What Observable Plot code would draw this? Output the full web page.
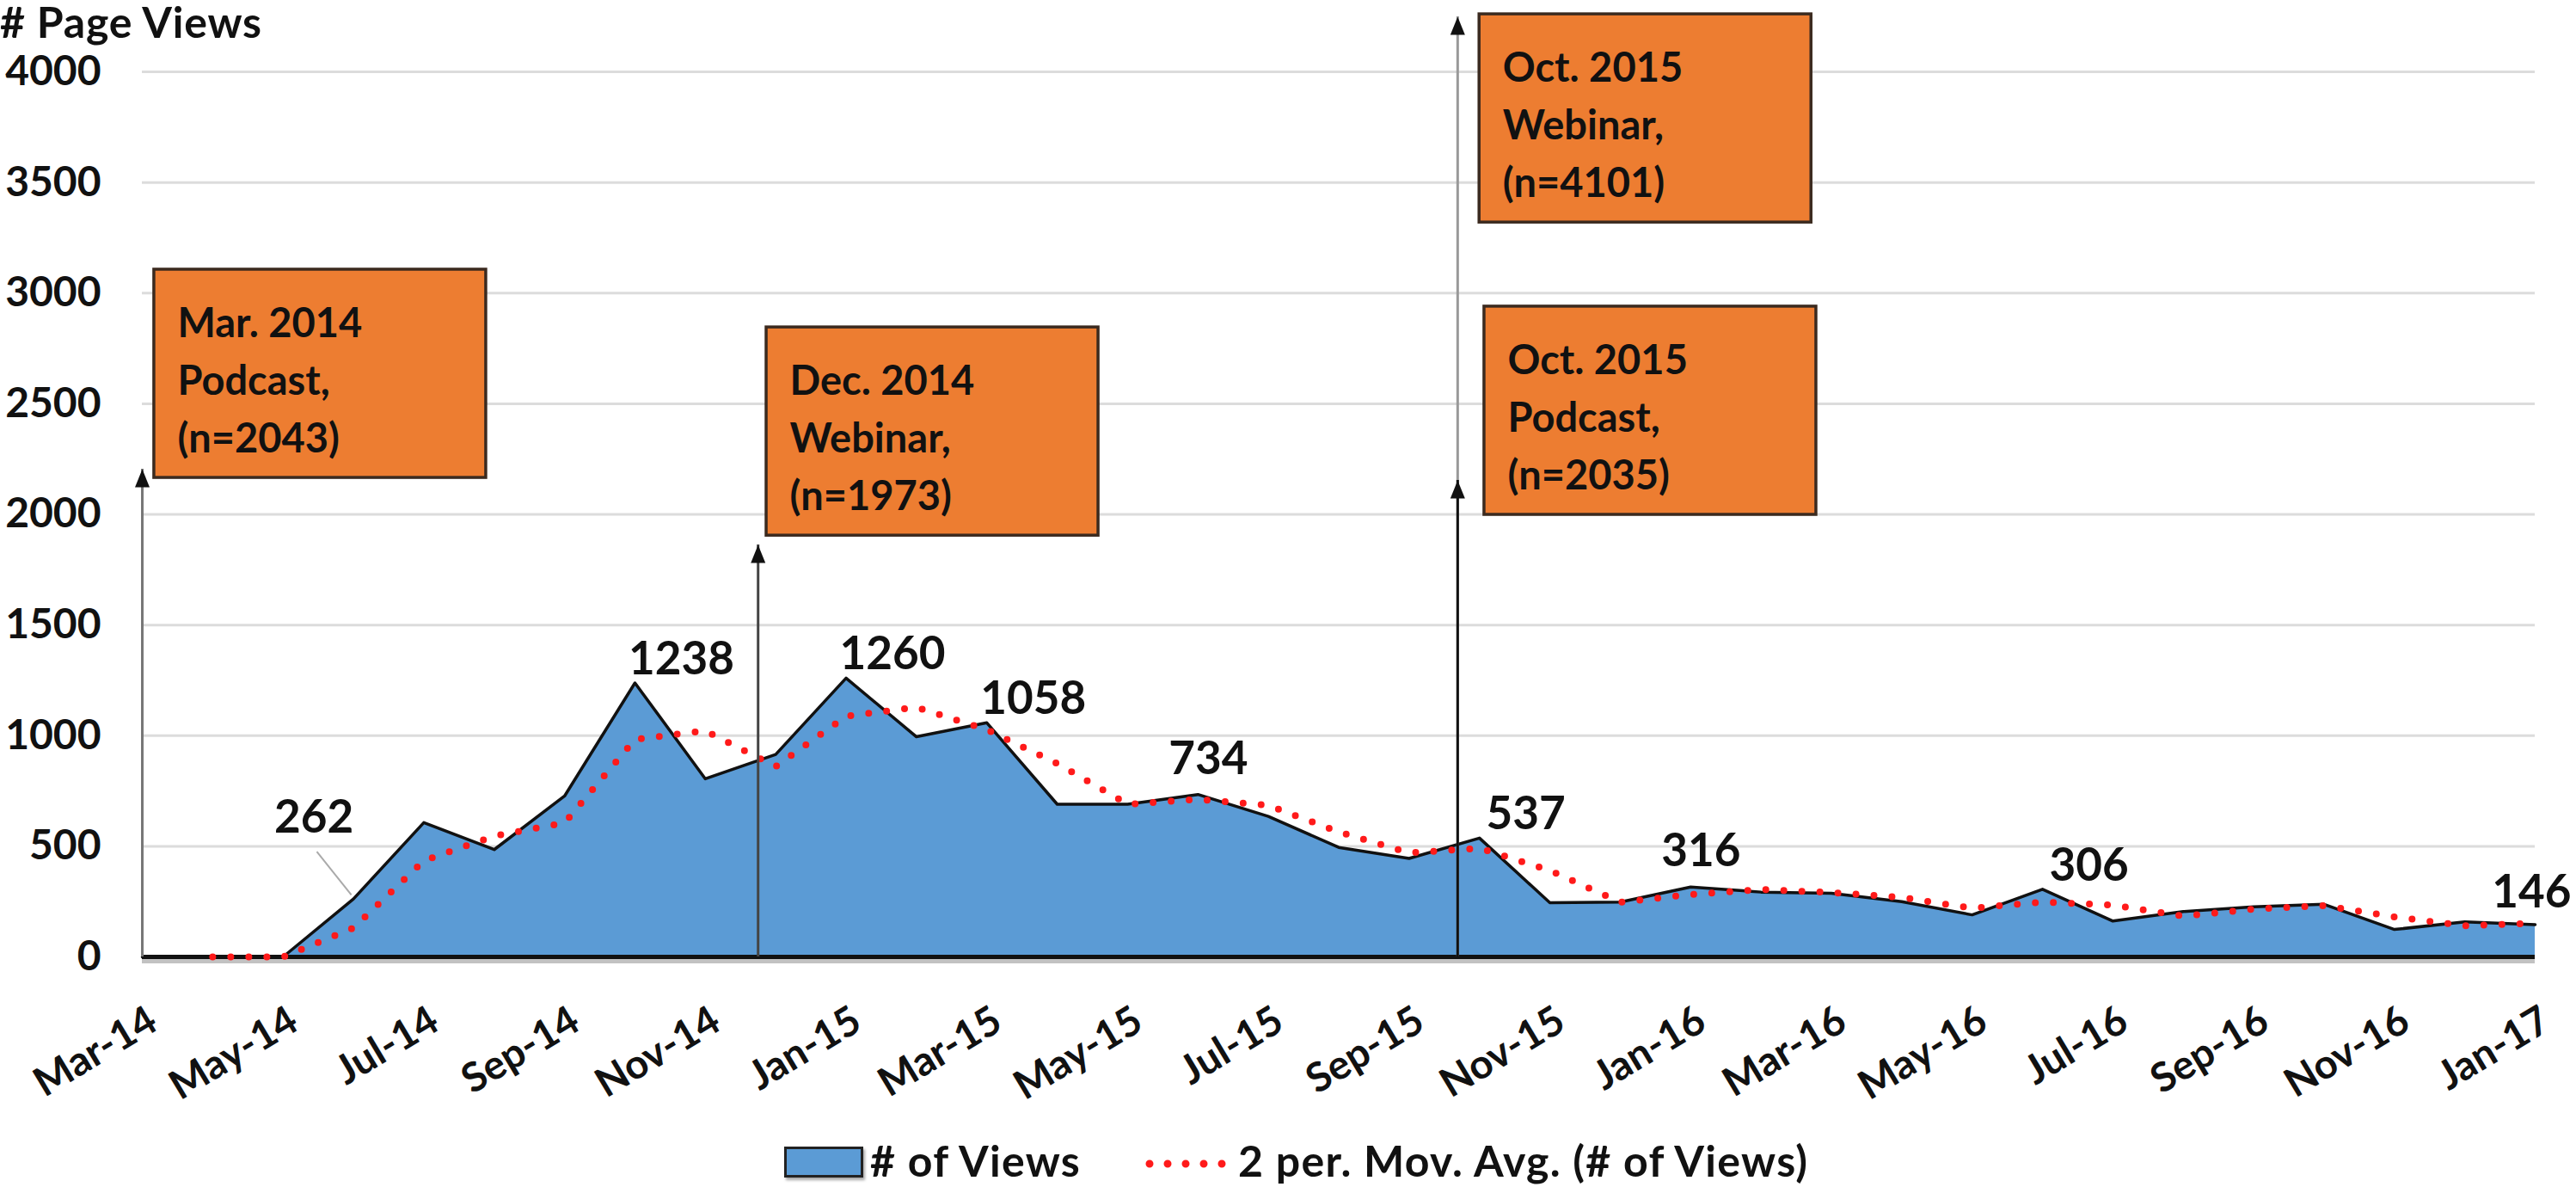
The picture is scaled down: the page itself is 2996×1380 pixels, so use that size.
<!DOCTYPE html>
<html>
<head>
<meta charset="utf-8">
<script src="https://cdn.jsdelivr.net/npm/d3@7"></script>
<script src="https://cdn.jsdelivr.net/npm/@observablehq/plot@0.6"></script>
<style>
  html, body { margin: 0; padding: 0; background: #fff; }
  body { width: 2996px; height: 1380px; overflow: hidden; font-family: Lato, "Open Sans", sans-serif; font-weight: 700; color: #111; }
  #wrap { position: relative; width: 2996px; height: 1380px; }
  #chart svg { display: block; overflow: visible; }
  #title { position: absolute; left: 0px; top: 0px; font-size: 50px; line-height: 50px; letter-spacing: 0.8px; white-space: nowrap; }
  #legend { position: absolute; left: 0; top: 1300px; width: 2996px; height: 80px; }
  #legend .sw { position: absolute; left: 912px; top: 33px; width: 86px; height: 30px; background: #5B9BD5; border: 3px solid #222; box-shadow: 2px 3px 3px rgba(0,0,0,0.35); }
  #legend .lt { position: absolute; top: 24px; font-size: 50px; line-height: 50px; letter-spacing: 1.3px; white-space: nowrap; }
  #legend svg { position: absolute; left: 1330px; top: 43px; }
</style>
</head>
<body>
<div id="wrap">
  <div id="chart"></div>
  <div id="title"># Page Views</div>
  <div id="legend">
    <div class="sw"></div>
    <span class="lt" style="left:1012px"># of Views</span>
    <svg width="100" height="20"><line x1="7" y1="10" x2="92" y2="10" stroke="#ff1a1a" stroke-width="9" stroke-dasharray="0 21" stroke-linecap="round"/></svg>
    <span class="lt" style="left:1440px">2 per. Mov. Avg. (# of Views)</span>
  </div>
</div>
<script>
// ---- data ----
const months = ["Mar-14","Apr-14","May-14","Jun-14","Jul-14","Aug-14","Sep-14","Oct-14","Nov-14","Dec-14",
  "Jan-15","Feb-15","Mar-15","Apr-15","May-15","Jun-15","Jul-15","Aug-15","Sep-15","Oct-15","Nov-15","Dec-15",
  "Jan-16","Feb-16","Mar-16","Apr-16","May-16","Jun-16","Jul-16","Aug-16","Sep-16","Oct-16","Nov-16","Dec-16",
  "Jan-17"];
const views = [0, 0, 0, 262, 607, 485, 727, 1238, 805, 915,
  1260, 995, 1058, 690, 690, 734, 635, 495, 445, 537, 245, 248,
  316, 293, 288, 250, 190, 306, 162, 205, 226, 238, 124, 158,
  146];
const movAvg = [null, 0, 0, 131, 435, 546, 606, 983, 1022, 860,
  1088, 1128, 1027, 874, 690, 712, 685, 565, 470, 491, 391, 247,
  282, 305, 291, 269, 220, 248, 234, 184, 216, 232, 181, 141,
  152];
const yTicks = [0, 500, 1000, 1500, 2000, 2500, 3000, 3500, 4000];
const xTickMonths = ["Mar-14","May-14","Jul-14","Sep-14","Nov-14","Jan-15","Mar-15","May-15","Jul-15",
  "Sep-15","Nov-15","Jan-16","Mar-16","May-16","Jul-16","Sep-16","Nov-16","Jan-17"];
const labeledMonths = ["Jun-14","Oct-14","Jan-15","Mar-15","Jun-15","Oct-15","Jan-16","Jun-16","Jan-17"];

// annotations: month position (fractional month index), arrow tip value, box top-left (month index, value)
const annTitles = [["Mar. 2014","Podcast,","(n=2043)"], ["Dec. 2014","Webinar,","(n=1973)"],
                   ["Oct. 2015","Webinar,","(n=4101)"], ["Oct. 2015","Podcast,","(n=2035)"]];
const annAt = [0, 8.75, 18.69, 18.69];
const annTip = [2204, 1862, 4249, 2154];
const annBoxX = [0.17, 8.87, 19.0, 19.07];
const annBoxY = [3106, 2845, 4260, 2939];

// ---- build ----
const data = months.map((m, i) => ({i, month: m, views: views[i], avg: movAvg[i]}));
const idx = m => months.indexOf(m);
const ann = annTitles.map((t, k) => ({text: t.join("\n"), at: annAt[k], tip: annTip[k], bx: annBoxX[k], by: annBoxY[k], k}));
const boxW = 4.716, boxH = 941;

const labelRows = data.filter(d => labeledMonths.includes(d.month));
const inGroup = list => labelRows.filter(d => list.includes(d.month));
const groupA = inGroup(["Oct-14","Jan-15","Mar-15","Oct-15","Jun-16"]);
const groupB = inGroup(["Jun-15","Jan-16"]);
const groupC = inGroup(["Jun-14"]);
const groupD = inGroup(["Jan-17"]);
const lbl = d => String(d.views);

const chart = Plot.plot({
  width: 2996,
  height: 1300,
  marginLeft: 165,
  marginRight: 48,
  marginTop: 83,
  marginBottom: 188,
  x: {type: "linear", domain: [0, months.length - 1]},
  y: {domain: [0, 4000]},
  style: {fontFamily: "Lato, 'Open Sans', sans-serif", fontWeight: 700, color: "#111", background: "#fff", overflow: "visible"},
  marks: [
    Plot.ruleY(yTicks.filter(d => d > 0), {stroke: "#dcdcdc", strokeWidth: 3}),
    Plot.areaY(data, {x: "i", y: "views", fill: "#5B9BD5"}),
    Plot.ruleY([0], {stroke: "#777", strokeOpacity: 0.45, strokeWidth: 5, dy: 5}),
    Plot.lineY(data, {x: "i", y: "views", stroke: "#111", strokeWidth: 3.5}),
    Plot.ruleY([0], {stroke: "#111", strokeWidth: 5}),
    Plot.lineY(data.filter(d => d.avg != null), {x: "i", y: "avg", stroke: "#ff1a1a", strokeWidth: 8, strokeDasharray: "0 21", strokeLinecap: "round"}),
    // arrows
    Plot.ruleX(ann.filter(d => d.k === 0), {x: "at", y1: 0, y2: "tip", stroke: "#777", strokeWidth: 3}),
    Plot.ruleX(ann.filter(d => d.k === 1), {x: "at", y1: 0, y2: "tip", stroke: "#444", strokeWidth: 3}),
    Plot.ruleX(ann.filter(d => d.k === 2), {x: "at", y1: 0, y2: "tip", stroke: "#999", strokeWidth: 3}),
    Plot.ruleX(ann.filter(d => d.k === 3), {x: "at", y1: 0, y2: "tip", stroke: "#111", strokeWidth: 3}),
    Plot.vector(ann, {x: "at", y: "tip", length: 21, r: 8.5, shape: "spike", anchor: "end", fill: "#111", stroke: "none"}),
    // boxes
    Plot.rect(ann, {x1: "bx", x2: d => d.bx + boxW, y1: d => d.by - boxH, y2: "by", fill: "#ED7D31", stroke: "#3b2a1f", strokeWidth: 3.5}),
    Plot.text(ann, {x: "bx", y: "by", text: "text", textAnchor: "start", lineAnchor: "top", dx: 27, dy: 31, fontSize: 47, lineHeight: 1.425, fill: "#111"}),
    // data labels
    Plot.link(groupC, {x1: d => d.i - 0.52, y1: d => d.views + 214, x2: d => d.i - 0.03, y2: d => d.views + 18, stroke: "#aaa", strokeWidth: 2}),
    Plot.text(groupA, {x: "i", y: "views", text: lbl, textAnchor: "middle", lineAnchor: "bottom", dx: 54, dy: -10, fontSize: 53, fill: "#111"}),
    Plot.text(groupB, {x: "i", y: "views", text: lbl, textAnchor: "middle", lineAnchor: "bottom", dx: 12, dy: -24, fontSize: 53, fill: "#111"}),
    Plot.text(groupC, {x: "i", y: "views", text: lbl, textAnchor: "middle", lineAnchor: "bottom", dx: -46, dy: -77, fontSize: 53, fill: "#111"}),
    Plot.text(groupD, {x: "i", y: "views", text: lbl, textAnchor: "end", lineAnchor: "bottom", dx: 42, dy: -20, fontSize: 53, fill: "#111"}),
    // axes
    Plot.axisX({ticks: xTickMonths.map(idx), tickFormat: i => months[i], tickSize: 0, tickPadding: 70, tickRotate: -31, textAnchor: "end", lineAnchor: "middle", dx: 13, fontSize: 47, label: null}),
    Plot.axisY({ticks: yTicks, tickFormat: d => String(d), tickSize: 0, tickPadding: 48, fontSize: 48, label: null})
  ]
});
document.getElementById("chart").appendChild(chart);
</script>
</body>
</html>
